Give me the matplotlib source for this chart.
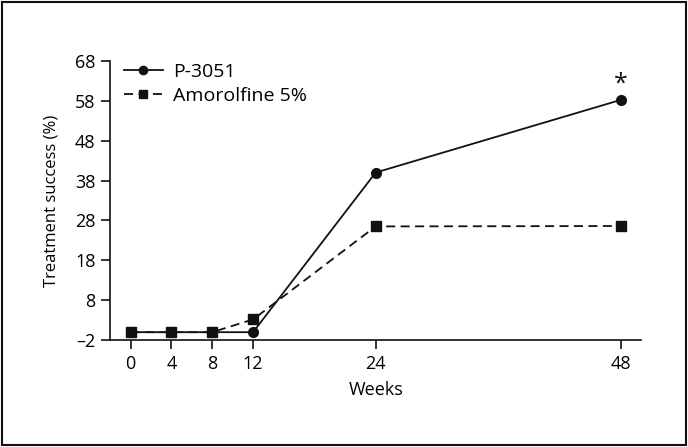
import matplotlib
matplotlib.use("Agg")
import matplotlib.pyplot as plt
from matplotlib.patches import Rectangle

weeks = [0, 4, 8, 12, 24, 48]
p3051 = [0, 0, 0, 0, 40, 58.2]
amorolfine = [0, 0, 0, 3.2, 26.5, 26.6]
yticks = [-2, 8, 18, 28, 38, 48, 58, 68]

plt.rcParams.update({"font.family": ["Open Sans", "DejaVu Sans"], "font.size": 13})

fig = plt.figure(figsize=(6.88, 4.47), dpi=100)
ax = fig.add_axes([0.16, 0.239, 0.772, 0.625])

ax.plot(weeks, p3051, "-o", color="#111111", lw=1.3, ms=7, label="P-3051", clip_on=False)
ax.plot(weeks, amorolfine, "--s", color="#111111", lw=1.3, ms=7, dashes=(5, 3),
        label="Amorolfine 5%", clip_on=False)
ax.text(weeks[-1], p3051[-1] + 0.8, "*", ha="center", va="bottom", fontsize=18, color="#111111")

ax.set_xlim(-2, 50)
ax.set_ylim(-2, 68)
ax.set_xticks(weeks)
ax.set_yticks(yticks)
ax.set_yticklabels(["\u20132"] + [str(t) for t in yticks[1:]])
for s in ("top", "right"):
    ax.spines[s].set_visible(False)
for s in ("bottom", "left"):
    ax.spines[s].set_linewidth(1.2)
    ax.spines[s].set_color("#111111")
ax.tick_params(direction="out", length=6.5, width=1.2, color="#111111", pad=4)
ax.set_xlabel("Weeks", labelpad=6)
ax.set_ylabel("Treatment success (%)", fontsize=12, labelpad=11)

ax.legend(loc="upper left", bbox_to_anchor=(0.0, 1.04), frameon=False, fontsize=14,
          handlelength=2.0, handletextpad=0.55, labelspacing=0.3, borderaxespad=0.3,
          markerscale=0.85)

fig.patches.append(Rectangle((0.003, 0.004), 0.994, 0.992, transform=fig.transFigure,
                             fill=False, edgecolor="#111111", lw=1.5))
fig.savefig("out.png", dpi=100)
